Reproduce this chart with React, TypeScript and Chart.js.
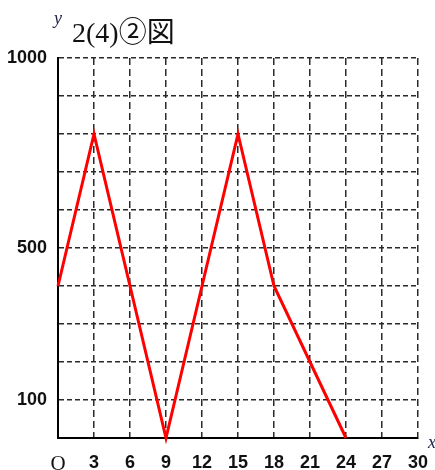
import React, { useEffect, useRef } from "react";
import { Chart, registerables } from "chart.js";

Chart.register(...registerables);

const titleText = "2(4)②図";
const yAxisName = "y";
const xAxisName = "x";
const xValues = [0, 3, 9, 15, 18, 24];
const yValues = [400, 800, 0, 800, 400, 0];
const yLabelValues = [100, 500, 1000];
const xMin = 0;
const xMax = 30;
const xStep = 3;
const yMin = 0;
const yMax = 1000;
const yStep = 100;
const originLabel = "O";

const tickFont = { family: '"Liberation Sans Narrow", "Arial Narrow", "Liberation Sans", Arial, sans-serif', size: 18, weight: "bold" as const };
const serifFont = { family: '"Liberation Serif", "Times New Roman", serif', size: 21, weight: "normal" as const };

const textPlugin = {
  id: "extraText",
  afterDraw(chart: any) {
    const { ctx, chartArea } = chart;
    ctx.save();
    ctx.fillStyle = "#111";
    ctx.textBaseline = "alphabetic";
    ctx.textAlign = "left";
    ctx.font = '28px "Liberation Serif", "Noto Sans CJK JP", serif';
    ctx.fillText(titleText, chartArea.left + 14, 42);
    ctx.fillStyle = "#22224a";
    ctx.font = 'italic 18px "Liberation Serif", serif';
    ctx.fillText(yAxisName, chartArea.left - 4, 24);
    ctx.fillText(xAxisName, chartArea.right + 10, chartArea.bottom + 10);
    ctx.restore();
  },
};

export default function App() {
  const ref = useRef<HTMLCanvasElement | null>(null);
  useEffect(() => {
    document.body.style.margin = "0";
    const canvas = ref.current;
    if (!canvas) return;
    const chart = new Chart(canvas, {
      type: "line",
      data: {
        datasets: [
          {
            data: xValues.map((x, i) => ({ x, y: yValues[i] })),
            borderColor: "#ff0000",
            borderWidth: 3,
            pointRadius: 0,
            tension: 0,
            fill: false,
            clip: false as any,
          },
        ],
      },
      options: {
        animation: false,
        responsive: true,
        maintainAspectRatio: false,
        layout: { padding: { top: 58, right: 17, left: 0, bottom: 0 } },
        plugins: { legend: { display: false }, tooltip: { enabled: false }, title: { display: false } },
        scales: {
          x: {
            type: "linear",
            min: xMin,
            max: xMax,
            afterFit: (s: any) => {
              s.height = 32;
              s.paddingLeft = 0;
              s.paddingRight = 0;
            },
            afterBuildTicks: (s: any) => {
              const t = [];
              for (let v = xMin; v <= xMax; v += xStep) t.push({ value: v });
              s.ticks = t;
            },
            ticks: {
              autoSkip: false,
              maxRotation: 0,
              padding: 14,
              color: "#111",
              font: (c: any) => (c.tick && c.tick.value === 0 ? serifFont : tickFont) as any,
              callback: (v: any) => (v === 0 ? originLabel : String(v)),
            },
            grid: { color: "#2a2a2a", lineWidth: 1.5, drawTicks: false },
            border: { display: true, color: "#000", width: 2, dash: [7, 4] },
          },
          y: {
            type: "linear",
            min: yMin,
            max: yMax,
            afterFit: (s: any) => {
              s.width = 58;
              s.paddingTop = 0;
              s.paddingBottom = 0;
            },
            afterBuildTicks: (s: any) => {
              const t = [];
              for (let v = yMin; v <= yMax; v += yStep) t.push({ value: v });
              s.ticks = t;
            },
            ticks: {
              autoSkip: false,
              padding: 11,
              color: "#111",
              font: tickFont as any,
              callback: (v: any) => (yLabelValues.includes(v) ? String(v) : ""),
            },
            grid: { color: "#2a2a2a", lineWidth: 1.5, drawTicks: false },
            border: { display: true, color: "#000", width: 2, dash: [5, 3] },
          },
        },
      },
      plugins: [textPlugin],
    });
    return () => chart.destroy();
  }, []);
  return (
    <div style={{ position: "relative", width: 435, height: 470, background: "#fff" }}>
      <canvas ref={ref} />
    </div>
  );
}
